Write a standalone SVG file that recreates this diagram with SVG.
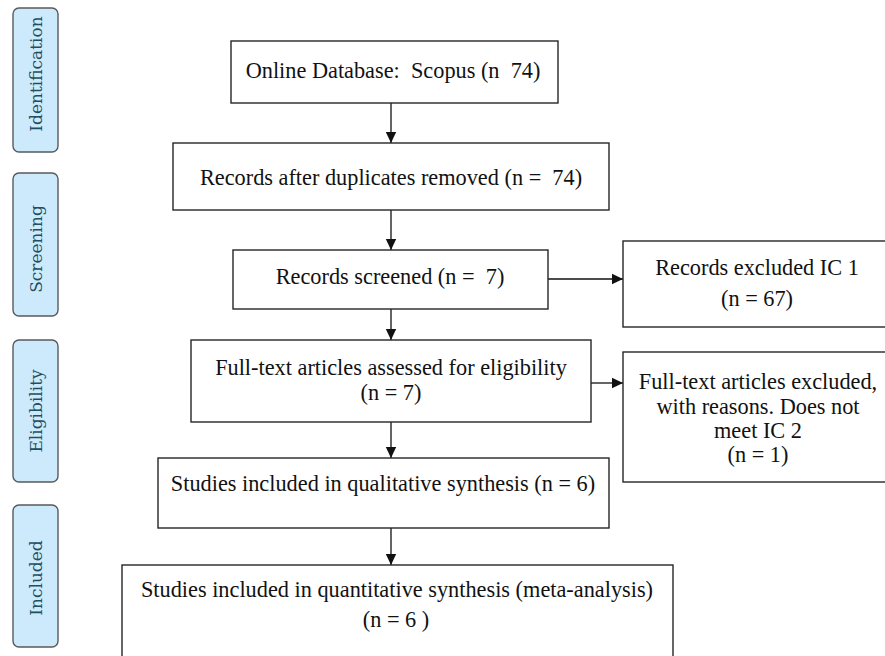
<svg xmlns="http://www.w3.org/2000/svg" width="885" height="656" viewBox="0 0 885 656">
<style>
.box{fill:#fff;stroke:#262626;stroke-width:1.4}
.t{font-family:"Liberation Serif","Times New Roman",serif;font-size:22.3px;fill:#111;text-anchor:middle;white-space:pre}
.phase{fill:#cdeafc;stroke:#5a5a5a;stroke-width:1.4}
.pt{font-family:"DejaVu Serif",serif;font-size:17px;fill:#1f4e5f;text-anchor:middle}
.c{stroke:#111;stroke-width:1.3;fill:none;marker-end:url(#ah)}
</style>
<defs>
<marker id="ah" markerUnits="userSpaceOnUse" markerWidth="12" markerHeight="12" viewBox="0 0 12 12" refX="11" refY="6" orient="auto">
<path d="M0,0.8 L11,6 L0,11.2 Z" fill="#111"/>
</marker>
</defs>
<rect width="885" height="656" fill="#fff"/>
<g id="phase-identification"><rect class="phase" x="13" y="8" width="45" height="144" rx="6"/><text class="pt" transform="translate(42,74) rotate(-90)">Identification</text></g>
<g id="phase-screening"><rect class="phase" x="13" y="173" width="45" height="143" rx="6"/><text class="pt" transform="translate(42,249) rotate(-90)">Screening</text></g>
<g id="phase-eligibility"><rect class="phase" x="13" y="340" width="45" height="142" rx="6"/><text class="pt" transform="translate(42,411) rotate(-90)">Eligibility</text></g>
<g id="phase-included"><rect class="phase" x="13" y="505" width="45" height="142" rx="6"/><text class="pt" transform="translate(42,578) rotate(-90)">Included</text></g>
<g id="connectors">
<line class="c" x1="391" y1="103" x2="391" y2="143"/>
<line class="c" x1="391" y1="210" x2="391" y2="250"/>
<line class="c" x1="391" y1="309" x2="391" y2="340"/>
<line class="c" x1="391" y1="422" x2="391" y2="458"/>
<line class="c" x1="391" y1="528" x2="391" y2="565"/>
<line class="c" x1="548" y1="279" x2="623" y2="279"/>
<line class="c" x1="591" y1="383" x2="623" y2="383"/>
</g>
<g id="n1"><rect class="box" x="231" y="41" width="327" height="62"/><text class="t" x="393" y="78">Online Database:  Scopus (n  74)</text></g>
<g id="n2"><rect class="box" x="173" y="143" width="436" height="67"/><text class="t" x="391" y="185">Records after duplicates removed (n =  74)</text></g>
<g id="n3"><rect class="box" x="233" y="250" width="315" height="59"/><text class="t" x="390" y="284">Records screened (n =  7)</text></g>
<g id="n4"><rect class="box" x="191" y="340" width="400" height="82"/><text class="t" x="391" y="375">Full-text articles assessed for eligibility</text><text class="t" x="391" y="400">(n = 7)</text></g>
<g id="n5"><rect class="box" x="158" y="458" width="451" height="70"/><text class="t" x="383" y="491">Studies included in qualitative synthesis (n = 6)</text></g>
<g id="n6"><rect class="box" x="122" y="565" width="551" height="100"/><text class="t" x="397" y="597">Studies included in quantitative synthesis (meta-analysis)</text><text class="t" x="396" y="627">(n = 6 )</text></g>
<g id="r1"><rect class="box" x="623" y="241" width="270" height="86"/><text class="t" x="757" y="275">Records excluded IC 1</text><text class="t" x="757" y="306">(n = 67)</text></g>
<g id="r2"><rect class="box" x="623" y="352" width="270" height="130"/><text class="t" x="758" y="389">Full-text articles excluded,</text><text class="t" x="758" y="414">with reasons. Does not</text><text class="t" x="758" y="438">meet IC 2</text><text class="t" x="758" y="462">(n = 1)</text></g>
</svg>
